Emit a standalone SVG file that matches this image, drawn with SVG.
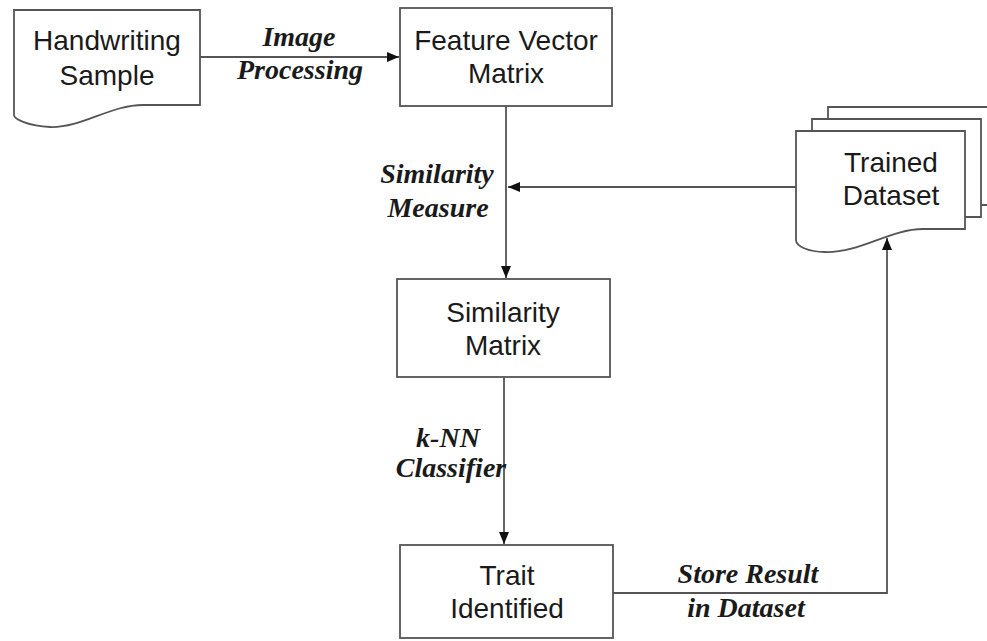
<svg xmlns="http://www.w3.org/2000/svg" width="987" height="641" viewBox="0 0 987 641">
<style>
.shape{fill:#fff;stroke:#555;stroke-width:1.8}
.conn{fill:none;stroke:#555;stroke-width:1.8}
.node{font-family:"Liberation Sans",Arial,sans-serif;font-size:28px;fill:#1a1a1a;text-anchor:middle}
.lbl{font-family:"Liberation Serif","Times New Roman",serif;font-size:28px;font-weight:bold;font-style:italic;fill:#1a1a1a;text-anchor:middle}
</style>
<defs>
<marker id="arr" viewBox="0 0 12 10" refX="12" refY="5" markerWidth="12" markerHeight="10" markerUnits="userSpaceOnUse" orient="auto">
<path d="M0,0 L12,5 L0,10 Z" fill="#111"/>
</marker>
</defs>
<rect width="987" height="641" fill="#fff"/>
<g id="connectors">
<path class="conn" d="M200,57 H399" marker-end="url(#arr)"/>
<path class="conn" d="M506,106 V278" marker-end="url(#arr)"/>
<path class="conn" d="M796,187 H508" marker-end="url(#arr)"/>
<path class="conn" d="M504,377 V544" marker-end="url(#arr)"/>
<path class="conn" d="M613,593 H887 V238" marker-end="url(#arr)"/>
</g>
<g id="labels">
<text class="lbl" x="299" y="46">Image</text>
<text class="lbl" x="300" y="79">Processing</text>
<text class="lbl" x="437" y="183">Similarity</text>
<text class="lbl" x="438" y="217">Measure</text>
<text class="lbl" x="448" y="447">k-NN</text>
<text class="lbl" x="451" y="477">Classifier</text>
<text class="lbl" x="748" y="583">Store Result</text>
<text class="lbl" x="746" y="617">in Dataset</text>
</g>
<g id="handwriting-sample">
<path class="shape" d="M14,10 H200 V105 H143 C110,105 82,128 50,127 C28,126 14,119 14,115 Z"/>
<text class="node" x="107" y="50">Handwriting</text>
<text class="node" x="107" y="85">Sample</text>
</g>
<g id="feature-vector-matrix">
<rect class="shape" x="400" y="8" width="212" height="98"/>
<text class="node" x="506" y="50">Feature Vector</text>
<text class="node" x="506" y="83">Matrix</text>
</g>
<g id="similarity-matrix">
<rect class="shape" x="397" y="279" width="213" height="98"/>
<text class="node" x="503" y="322">Similarity</text>
<text class="node" x="503" y="355">Matrix</text>
</g>
<g id="trait-identified">
<rect class="shape" x="400" y="545" width="213" height="93"/>
<text class="node" x="507" y="585">Trait</text>
<text class="node" x="507" y="618">Identified</text>
</g>
<g id="trained-dataset">
<path class="shape" d="M828,205 V107 H990 V205 Z"/>
<path class="shape" d="M812,217 V119 H981 V217 Z"/>
<path class="shape" d="M796,131 H965 V229 H923 C890,229 860,253 825,252 C808,252 796,246 796,240 Z"/>
<text class="node" x="891" y="172">Trained</text>
<text class="node" x="891" y="205">Dataset</text>
</g>
</svg>
